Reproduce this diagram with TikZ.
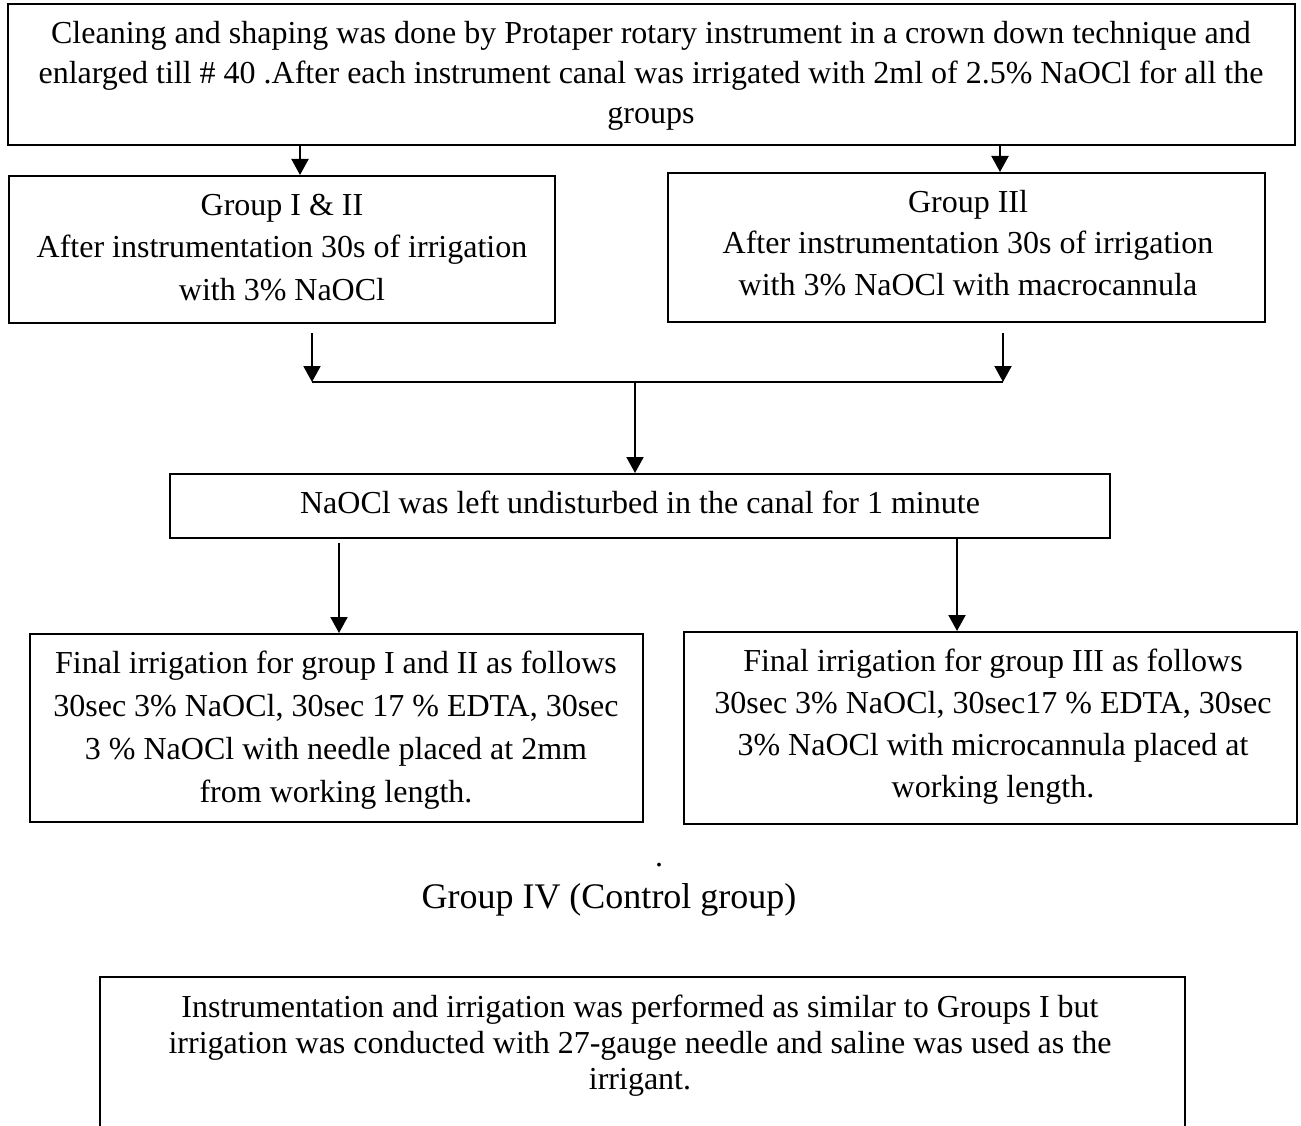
\documentclass[tikz,border=0pt]{standalone}
\usepackage{fontspec}
\setmainfont{Liberation Serif}
\usetikzlibrary{arrows.meta}
\begin{document}
\begin{tikzpicture}[x=1pt,y=-1pt,
  box/.style={draw, line width=2pt, inner sep=0pt, rectangle},
  txt/.style={inner sep=0pt, align=center, anchor=base},
  fmain/.style={font=\fontsize{32}{42}\selectfont},
  arr/.style={line width=2pt, -{Triangle[width=17pt,length=16pt]}},
  ln/.style={line width=2pt}]
\useasboundingbox (0,0) rectangle (1301,1126);
\clip (0,0) rectangle (1301,1126);
% boxes
\node[box, minimum width=1287pt, minimum height=141pt] (top) at (651.5,74.5) {};
\node[box, minimum width=546pt, minimum height=147pt] (g1) at (282,249.5) {};
\node[box, minimum width=597pt, minimum height=149pt] (g3) at (966.5,247.5) {};
\node[box, minimum width=940pt, minimum height=64pt] (nao) at (640,506) {};
\node[box, minimum width=613pt, minimum height=188pt] (f1) at (336.5,728) {};
\node[box, minimum width=613pt, minimum height=192pt] (f3) at (990.5,728) {};
\node[box, minimum width=1085pt, minimum height=173pt] (g4box) at (642.5,1063.5) {};
% texts (anchor base = baseline of the last line)
\node[txt, font=\fontsize{32}{40}\selectfont] (t0) at (651,124) {Cleaning and shaping was done by Protaper rotary instrument in a crown down technique and\\enlarged till \# 40 .After each instrument canal was irrigated with 2ml of 2.5\% NaOCl for all the\\groups};
\node[txt, font=\fontsize{32}{42.5}\selectfont] (t1) at (282,300) {Group I \& II\\After instrumentation 30s of irrigation\\with 3\% NaOCl};
\node[txt, font=\fontsize{32}{41.5}\selectfont] (t3) at (968,295) {Group IIl\\After instrumentation 30s of irrigation\\with 3\% NaOCl with macrocannula};
\node[txt, fmain] (tn) at (640,513) {NaOCl was left undisturbed in the canal for 1 minute};
\node[txt, font=\fontsize{32}{43}\selectfont] (tf1) at (336,802) {Final irrigation for group I and II as follows\\30sec 3\% NaOCl, 30sec 17 \% EDTA, 30sec\\3 \% NaOCl with needle placed at 2mm\\from working length.};
\node[txt, font=\fontsize{32}{41.7}\selectfont] (tf3) at (993,797) {Final irrigation for group III as follows\\30sec 3\% NaOCl, 30sec17 \% EDTA, 30sec\\3\% NaOCl with microcannula placed at\\working length.};
\node[txt, fmain] (dot) at (659,866) {.};
\node[txt, font=\fontsize{36}{42}\selectfont] (g4) at (609,908) {Group IV (Control group)};
\node[txt, font=\fontsize{32}{36}\selectfont] (tb) at (640,1089) {Instrumentation and irrigation was performed as similar to Groups I but\\irrigation was conducted with 27-gauge needle and saline was used as the\\irrigant.};
% connector coordinates
\coordinate (a1) at (300,0);
\coordinate (a2) at (1000,0);
\coordinate (s1) at (312,333);
\coordinate (s3) at (1003,333);
\coordinate (mL) at (312,382);
\coordinate (mR) at (1003,382);
\coordinate (mC) at (635,382);
\coordinate (s4) at (339,543);
\coordinate (a5) at (957,0);
% connectors
\draw[arr] (top.south -| a1) -- (g1.north -| a1);
\draw[arr] (top.south -| a2) -- (g3.north -| a2);
\draw[arr] (s1) -- (mL);
\draw[arr] (s3) -- (mR);
\draw[ln] (mL) -- (mR);
\draw[arr] (mC) -- (nao.north -| mC);
\draw[arr] (s4) -- (f1.north -| s4);
\draw[arr] (nao.south -| a5) -- (f3.north -| a5);
\end{tikzpicture}
\end{document}
